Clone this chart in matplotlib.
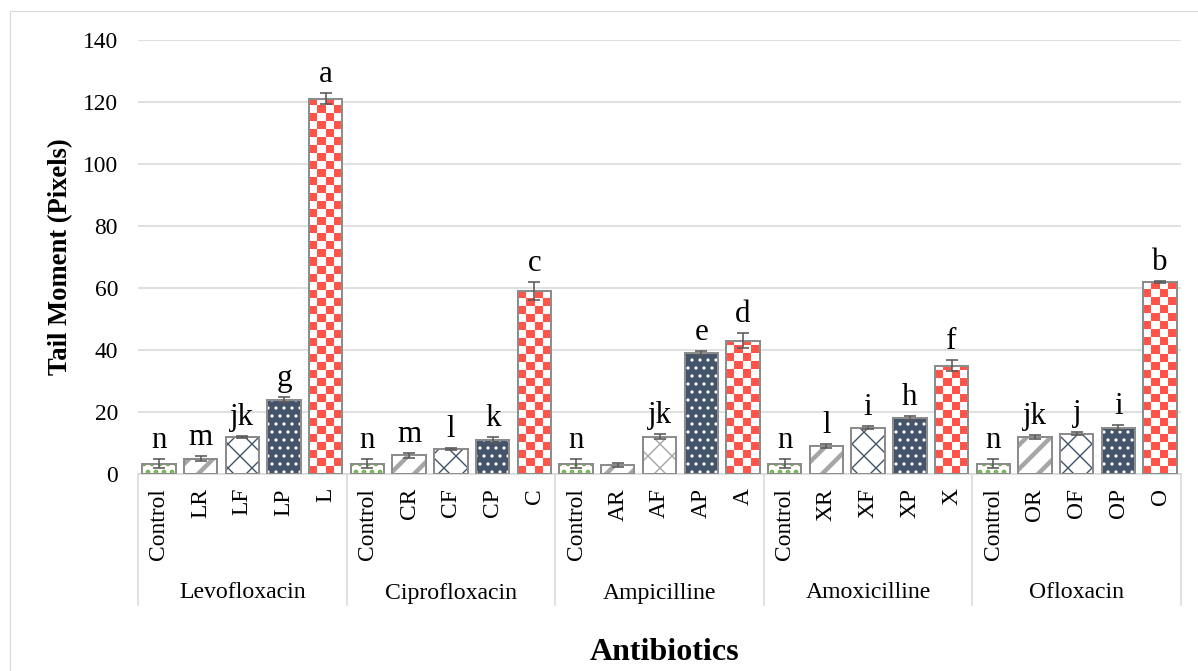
import numpy as np
import matplotlib
matplotlib.use("Agg")
import matplotlib.pyplot as plt
from matplotlib.colors import ListedColormap
from matplotlib.lines import Line2D
from matplotlib.patches import Rectangle

# data
groups = ["Levofloxacin", "Ciprofloxacin", "Ampicilline", "Amoxicilline", "Ofloxacin"]
tick_labels = [
    ["Control", "LR", "LF", "LP", "L"],
    ["Control", "CR", "CF", "CP", "C"],
    ["Control", "AR", "AF", "AP", "A"],
    ["Control", "XR", "XF", "XP", "X"],
    ["Control", "OR", "OF", "OP", "O"],
]
values = [
    [3.3, 5, 12, 24, 121],
    [3.3, 6, 8, 11, 59],
    [3.3, 3, 12, 39, 43],
    [3.3, 9, 15, 18, 35],
    [3.3, 12, 13, 15, 62],
]
errors = [
    [1.5, 0.9, 0.4, 0.8, 1.8],
    [1.5, 0.8, 0.4, 0.9, 3.0],
    [1.5, 0.7, 0.8, 0.6, 2.5],
    [1.5, 0.6, 0.5, 0.7, 1.8],
    [1.5, 0.6, 0.4, 0.8, 0.4],
]
letters = [
    ["n", "m", "jk", "g", "a"],
    ["n", "m", "l", "k", "c"],
    ["n", "", "jk", "e", "d"],
    ["n", "l", "i", "h", "f"],
    ["n", "jk", "j", "i", "b"],
]

plt.rcParams['font.family'] = ['Liberation Serif', 'DejaVu Serif']

DPI = 144
fig = plt.figure(figsize=(1198 / DPI, 671 / DPI), dpi=DPI)
W, H = 1198, 671
ax = fig.add_axes([138 / W, 1 - 474 / H, (1181 - 138) / W, (474 - 40) / H])

navy = "#44546A"
red = "#FF5447"
edge = "#8C8C8C"
grid = "#D9D9D9"

# style per bar slot inside a group: (face, hatch, hatch colour, hatch lw)
styles = [
    ("white", "...", "#70AD47", 1.5),
    ("white", "//", "#A5A5A5", 2.2),
    ("white", "xx", navy, 0.7),
    (navy, "...", "white", 0.8),
    ("white", None, None, 0),
]

flat_vals = [v for g in values for v in g]
flat_err = [e for g in errors for e in g]
flat_ticks = [t for g in tick_labels for t in g]
flat_letters = [l for g in letters for l in g]
x = np.arange(len(flat_vals))
width = 0.8

bars = ax.bar(x, flat_vals, width=width, color="white", edgecolor=edge,
              linewidth=1.0, zorder=3)

cell_h = 8 / 434 * 140
check_cmap = ListedColormap([red, "white"])
for i, b in enumerate(bars):
    face, hatch, hcol, hlw = styles[i % 5]
    if (i // 5) == 2 and i % 5 == 2:
        hcol = "#A5A5A5"
    if hatch is not None:
        hb = ax.bar(x[i], flat_vals[i], width=width, color=face, edgecolor=hcol,
                    linewidth=0, hatch=hatch, zorder=2)[0]
        if hasattr(hb, "set_hatch_linewidth"):
            hb.set_hatch_linewidth(hlw)
        else:
            plt.rcParams['hatch.linewidth'] = hlw
        b.set_facecolor("none")
    else:
        x0, w, h = b.get_x(), b.get_width(), b.get_height()
        nrow = int(np.ceil(h / cell_h))
        img = np.indices((nrow, 4)).sum(axis=0) % 2
        im = ax.imshow(img, extent=(x0, x0 + w, 0, nrow * cell_h), origin="lower",
                       cmap=check_cmap, interpolation="nearest", aspect="auto", zorder=2)
        im.set_clip_path(b)
        b.set_facecolor("none")

ax.errorbar(x, flat_vals, yerr=flat_err, fmt="none", ecolor="#595959",
            elinewidth=0.8, capsize=3, capthick=0.8, zorder=4)

for xi, v, e, lab in zip(x, flat_vals, flat_err, flat_letters):
    if lab:
        ax.annotate(lab, (xi, v + e), xytext=(0, 5.5), textcoords="offset points",
                    ha="center", va="baseline", fontsize=15.5)

ax.set_xlim(-0.5, len(x) - 0.5)
ax.set_ylim(0, 140)
ax.set_yticks(np.arange(0, 141, 20))
ax.yaxis.grid(True, color=grid, linewidth=0.8)
ax.set_axisbelow(True)
ax.tick_params(axis="y", length=0, pad=10, labelsize=11.75)
ax.set_xticks(x)
ax.set_xticklabels(flat_ticks, rotation=90, fontsize=11.75)
ax.tick_params(axis="x", length=0, pad=7)
for s in ["left", "right", "top"]:
    ax.spines[s].set_visible(False)
ax.spines["bottom"].set_color(grid)
ax.spines["bottom"].set_linewidth(0.8)

ax.set_ylabel("Tail Moment (Pixels)", fontsize=13.3, fontweight="bold", labelpad=5)

# multi-level category axis
trans = ax.get_xaxis_transform()
y_bot = -(605 - 474) / 434
for k in range(len(groups) + 1):
    xs = k * 5 - 0.5
    ax.add_line(Line2D([xs, xs], [0, y_bot], transform=trans, color=grid,
                       linewidth=0.8, clip_on=False))
for k, g in enumerate(groups):
    ax.text(k * 5 + 2, -(593 - 474) / 434, g, transform=trans, ha="center",
            va="center", fontsize=11.9)

fig.text(665 / W, 1 - 653 / H, "Antibiotics", ha="center", va="center",
         fontsize=16, fontweight="bold")

fig.patches.append(Rectangle((10 / W, -0.1), 1.2, 1 - 11 / H + 0.1,
                             transform=fig.transFigure, fill=False,
                             edgecolor=grid, linewidth=0.6))

fig.savefig("out.png", dpi=DPI)
